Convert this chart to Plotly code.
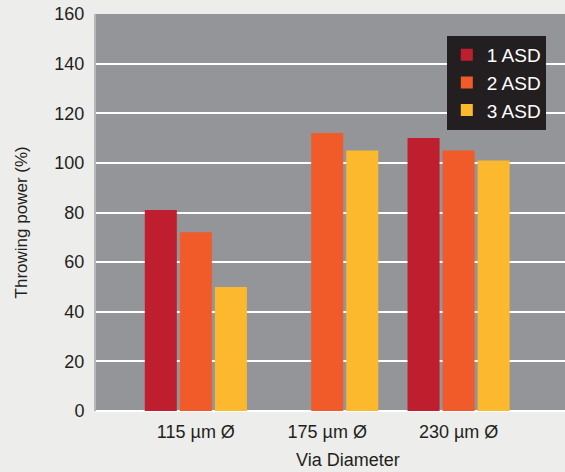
import plotly.graph_objects as go

# Via diameters on the x axis
categories = ["115 µm Ø", "175 µm Ø", "230 µm Ø"]

# Throwing power (%) per current density
series_names = ["1 ASD", "2 ASD", "3 ASD"]
asd1 = [81, None, 110]
asd2 = [72, 112, 105]
asd3 = [50, 105, 101]

y_ticks = [0, 20, 40, 60, 80, 100, 120, 140, 160]

colors = ["#BE1E2D", "#F15A29", "#FDB92E"]
FONT = "Liberation Sans, Arial, Helvetica, sans-serif"
TEXT = "#231F20"

fig = go.Figure()
for name, vals, col in zip(series_names, [asd1, asd2, asd3], colors):
    fig.add_trace(go.Bar(x=categories, y=vals, name=name,
                         marker=dict(color=col, line=dict(width=0))))

fig.update_layout(
    width=565, height=472,
    margin=dict(l=96, r=0, t=14, b=61),
    paper_bgcolor="#EDEDEB",
    plot_bgcolor="#939598",
    barmode="group",
    bargap=0.20,
    bargroupgap=0.086,
    font=dict(family=FONT, color=TEXT, size=18),
    showlegend=True,
    legend=dict(
        x=0.748, y=0.945, xanchor="left", yanchor="top",
        bgcolor="#231F20",
        font=dict(color="white", size=19, family=FONT),
        borderwidth=0,
        tracegroupgap=0,
        itemsizing="constant",
    ),
    xaxis=dict(
        type="category",
        range=[-0.76, 2.81],
        showgrid=False,
        ticks="",
        showline=False,
        ticklabelstandoff=8,
        tickfont=dict(size=18, color=TEXT),
        fixedrange=True,
    ),
    yaxis=dict(
        range=[0, 160],
        tickvals=y_ticks,
        showgrid=True,
        gridcolor="white",
        gridwidth=1.5,
        zeroline=True,
        zerolinecolor="white",
        zerolinewidth=2,
        showline=True,
        linecolor="#B5B6B8",
        linewidth=2,
        ticks="",
        ticklabelstandoff=6,
        tickfont=dict(size=18, color=TEXT),
        fixedrange=True,
    ),
    annotations=[
        dict(text="Throwing power (%)", xref="paper", yref="paper",
             x=-0.16, y=0.475, xanchor="center", yanchor="middle",
             textangle=-90, showarrow=False,
             font=dict(size=17, color=TEXT, family=FONT)),
        dict(text="Via Diameter", xref="paper", yref="paper",
             x=0.537, y=-0.124, xanchor="center", yanchor="middle",
             showarrow=False,
             font=dict(size=18, color=TEXT, family=FONT)),
    ],
)

fig.write_html("out.html")
